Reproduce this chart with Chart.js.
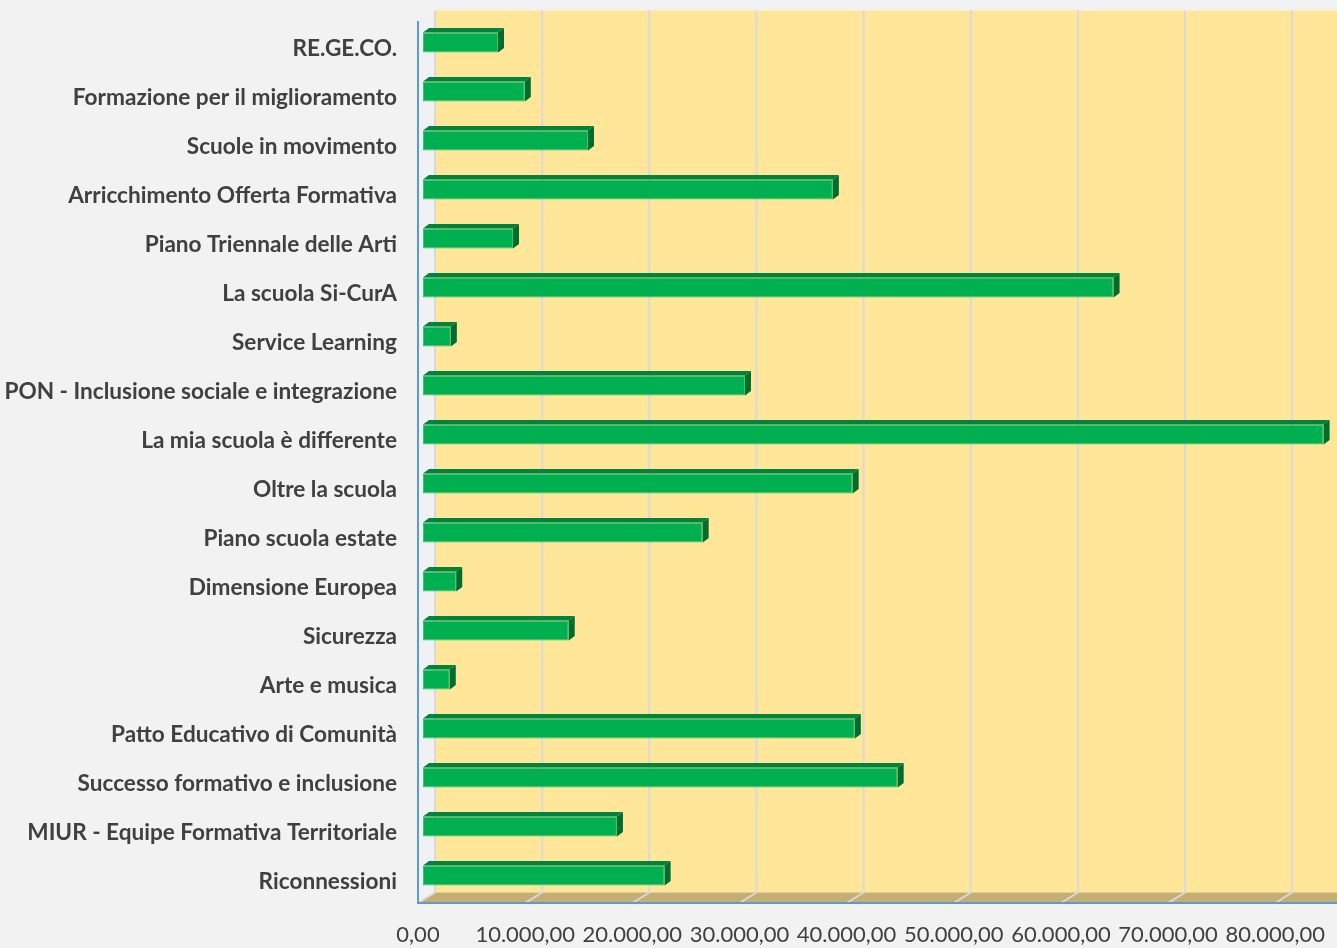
<!DOCTYPE html>
<html>
<head>
<meta charset="utf-8">
<script src="https://cdn.jsdelivr.net/npm/chart.js@4/dist/chart.umd.min.js"></script>
<style>
  body { margin: 0; background: #f2f2f2; }
  #wrap { width: 1337px; height: 948px; }
</style>
</head>
<body>
<div id="wrap"><canvas id="myChart" width="1337" height="948"></canvas></div>
<script>
'use strict';

// categories, top to bottom
const categories = [
    'RE.GE.CO.',
    'Formazione per il miglioramento',
    'Scuole in movimento',
    'Arricchimento Offerta Formativa',
    'Piano Triennale delle Arti',
    'La scuola Si-CurA',
    'Service Learning',
    'PON - Inclusione sociale e integrazione',
    'La mia scuola è differente',
    'Oltre la scuola',
    'Piano scuola estate',
    'Dimensione Europea',
    'Sicurezza',
    'Arte e musica',
    'Patto Educativo di Comunità',
    'Successo formativo e inclusione',
    'MIUR - Equipe Formativa Territoriale',
    'Riconnessioni'
];

// importi
const amounts = [7000, 9500, 15400, 38250, 8400, 64450, 2600, 30050, 84050,
    40100, 26100, 3100, 13600, 2500, 40300, 44300, 18100, 22550];

const tickValues = [0, 10000, 20000, 30000, 40000, 50000, 60000, 70000, 80000];

// 3D look
const back = { dx: 12, dy: -7.5 };
const front = { dx: -5, dy: 3 };
const barDepth = { dx: 6, dy: -4.5 };

function fmt(v) {
    let s = Math.round(v).toString().replace(/\B(?=(\d{3})+(?!\d))/g, '.');
    return s + ',00';
}

function noPad(s) {
    s.paddingTop = 0;
    s.paddingBottom = 0;
    s.paddingLeft = 0;
    s.paddingRight = 0;
}

const box3d = {
    id: 'box3d',
    beforeDraw(chart) {
        const ctx = chart.ctx;
        const a = chart.chartArea;
        const W = chart.width;
        ctx.save();
        ctx.fillStyle = '#f2f2f2';
        ctx.fillRect(0, 0, W, chart.height);

        // back wall
        ctx.fillStyle = '#ffe699';
        ctx.fillRect(a.left + back.dx, a.top + back.dy, W, a.bottom - a.top);

        // floor
        ctx.fillStyle = '#c4ae72';
        ctx.beginPath();
        ctx.moveTo(a.left + back.dx, a.bottom + back.dy);
        ctx.lineTo(W, a.bottom + back.dy);
        ctx.lineTo(W, a.bottom + front.dy);
        ctx.lineTo(a.left + front.dx, a.bottom + front.dy);
        ctx.closePath();
        ctx.fill();

        // side wall
        ctx.fillStyle = '#f0f1f3';
        ctx.beginPath();
        ctx.moveTo(a.left + front.dx, a.top + front.dy);
        ctx.lineTo(a.left + back.dx, a.top + back.dy);
        ctx.lineTo(a.left + back.dx, a.bottom + back.dy);
        ctx.lineTo(a.left + front.dx, a.bottom + front.dy);
        ctx.closePath();
        ctx.fill();

        // grid lines on wall + floor
        const xs = chart.scales.x;
        ctx.strokeStyle = '#d9d9d9';
        ctx.lineWidth = 2;
        tickValues.forEach(v => {
            const px = xs.getPixelForValue(v);
            ctx.beginPath();
            ctx.moveTo(px + back.dx, a.top + back.dy);
            ctx.lineTo(px + back.dx, a.bottom + back.dy);
            ctx.lineTo(px + front.dx, a.bottom + front.dy);
            ctx.stroke();
        });

        // axis lines
        ctx.strokeStyle = '#5b9bd5';
        ctx.lineWidth = 2;
        ctx.beginPath();
        ctx.moveTo(a.left + front.dx, a.top + front.dy);
        ctx.lineTo(a.left + front.dx, a.bottom + front.dy);
        ctx.lineTo(W, a.bottom + front.dy);
        ctx.stroke();
        ctx.restore();
    },
    afterDatasetsDraw(chart) {
        const ctx = chart.ctx;
        const meta = chart.getDatasetMeta(0);
        ctx.save();
        meta.data.forEach(bar => {
            const p = bar.getProps(['x', 'y', 'base', 'height'], true);
            const top = p.y - p.height / 2;
            const bottom = p.y + p.height / 2;
            // top face
            ctx.fillStyle = '#00843b';
            ctx.beginPath();
            ctx.moveTo(p.base, top);
            ctx.lineTo(p.x, top);
            ctx.lineTo(p.x + barDepth.dx, top + barDepth.dy);
            ctx.lineTo(p.base + barDepth.dx, top + barDepth.dy);
            ctx.closePath();
            ctx.fill();
            // side face
            ctx.fillStyle = '#006d2f';
            ctx.beginPath();
            ctx.moveTo(p.x, top);
            ctx.lineTo(p.x + barDepth.dx, top + barDepth.dy);
            ctx.lineTo(p.x + barDepth.dx, bottom + barDepth.dy);
            ctx.lineTo(p.x, bottom);
            ctx.closePath();
            ctx.fill();
        });
        ctx.restore();
    }
};

const ctx = document.getElementById('myChart').getContext('2d');

const chart = new Chart(ctx, {
    type: 'bar',
    data: {
        labels: categories,
        datasets: [{
            label: 'Importo',
            data: amounts,
            backgroundColor: '#00b050',
            borderColor: '#3fc070',
            borderWidth: 1,
            borderSkipped: false,
            categoryPercentage: 1,
            barPercentage: 0.41
        }]
    },
    plugins: [box3d],
    options: {
        indexAxis: 'y',
        responsive: false,
        animation: false,
        layout: { padding: { top: 18, right: 0, bottom: 0, left: 0 } },
        plugins: {
            legend: { display: false },
            tooltip: { enabled: false }
        },
        scales: {
            x: {
                min: 0,
                max: 85300,
                grid: { display: false, drawTicks: false },
                border: { display: false },
                afterFit: s => { s.height = 48; noPad(s); },
                afterBuildTicks: s => { s.ticks = tickValues.map(v => ({ value: v })); },
                ticks: {
                    includeBounds: false,
                    padding: 22,
                    labelOffset: -5,
                    color: '#404040',
                    font: { family: 'Lato', size: 22 },
                    callback: v => fmt(v)
                }
            },
            y: {
                grid: { display: false, drawTicks: false },
                border: { display: false },
                afterFit: s => { s.width = 423; noPad(s); },
                ticks: {
                    padding: 26,
                    labelOffset: 6,
                    color: '#404040',
                    font: { family: 'Lato', size: 22.6, weight: 'bold' }
                }
            }
        }
    }
});
</script>
</body>
</html>
